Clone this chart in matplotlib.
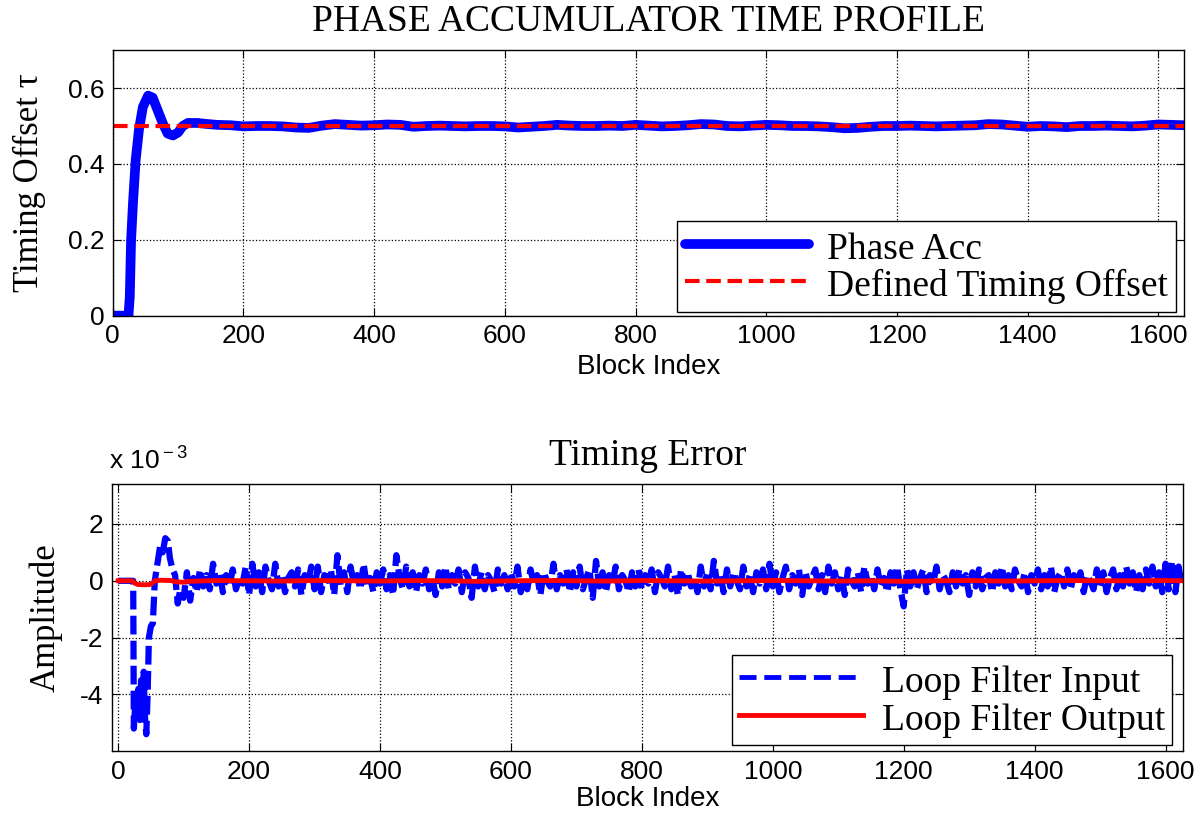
import numpy as np
import matplotlib
matplotlib.use("Agg")
import matplotlib.pyplot as plt

# ---- data ----
# top panel: phase accumulator output (transient then steady state every 20 blocks)
acc_idx = [0, 24, 26, 28, 31, 35, 40, 46, 54, 61, 69, 77, 84, 92, 100, 107, 115, 130]
acc_val = [0, 0, 0.05, 0.2, 0.3, 0.41, 0.49, 0.55, 0.58, 0.575, 0.54, 0.505,
           0.48, 0.475, 0.483, 0.5, 0.508, 0.508]
acc_steady_idx = list(range(140, 1641, 20))
acc_steady_val = [0.506, 0.503, 0.502, 0.499, 0.5, 0.5, 0.499, 0.496, 0.495, 0.501,
                  0.505, 0.503, 0.501, 0.502, 0.504, 0.503, 0.498, 0.5, 0.501, 0.5,
                  0.499, 0.5, 0.5, 0.499, 0.496, 0.498, 0.5, 0.503, 0.501, 0.5,
                  0.5, 0.501, 0.5, 0.503, 0.501, 0.499, 0.5, 0.502, 0.505, 0.504,
                  0.5, 0.499, 0.501, 0.503, 0.502, 0.5, 0.5, 0.499, 0.497, 0.494,
                  0.495, 0.498, 0.5, 0.5, 0.501, 0.5, 0.499, 0.5, 0.501, 0.502,
                  0.505, 0.504, 0.501, 0.498, 0.5, 0.499, 0.497, 0.5, 0.5, 0.501,
                  0.5, 0.499, 0.501, 0.504, 0.503, 0.502]
defined_offset = 0.5

# bottom panel: loop filter input (x 1e-3), transient then every 5 blocks
lf_in_idx = [0, 23, 24, 27, 29, 31, 33, 35, 37, 39, 41, 43, 45, 47, 50, 53, 56,
             60, 64, 68, 72, 76, 79, 83, 87, 91, 95]
lf_in_val = [0, 0, -5.2, -4.0, -4.6, -3.8, -4.9, -3.5, -4.4, -3.2, -4.8, -5.4,
             -4.0, -2.0, -1.6, -1.5, 0.0, 0.6, 1.2, 1.0, 1.5, 1.4, 0.8, 0.4,
             0.2, -0.8, -0.3]
lf_in_steady_idx = list(range(100, 1626, 5))
lf_in_steady_val = [
    -0.6, 0.3, -0.7, 0.1, -0.4, 0.4, -0.2, 0.2, -0.3, 0.6, -0.1, 0.3, -0.4, 0.2, -0.2, 0.4, -0.3, 0.1, -0.1, 0.5,
    -0.5, 0.6, -0.2, 0.3, -0.4, 0.5, 0.0, -0.3, 0.6, -0.2, 0.2, -0.4, 0.1, 0.3, -0.2, 0.4, -0.5, 0.2, -0.1, 0.5,
    -0.3, 0.5, -0.4, 0.2, 0.0, 0.4, -0.5, 0.9, -0.2, 0.3, -0.4, 0.5, -0.1, 0.2, -0.3, 0.6, -0.2, 0.1, -0.4, 0.3,
    -0.1, 0.4, -0.3, 0.2, -0.5, 0.9, 0.1, -0.3, 0.5, -0.2, 0.3, -0.4, 0.2, -0.1, 0.4, -0.3, 0.1, -0.5, 0.3, -0.2,
    0.5, -0.3, 0.2, -0.1, 0.4, -0.4, 0.3, 0.1, -0.6, 0.5, -0.2, 0.3, -0.3, 0.2, 0.0, -0.4, 0.4, -0.1, 0.2, -0.3,
    0.3, -0.2, 0.5, -0.4, 0.1, -0.3, 0.4, -0.1, 0.2, -0.5, 0.3, 0.0, -0.2, 0.6, -0.3, 0.2, -0.1, 0.4, -0.4, 0.3,
    -0.2, 0.5, -0.3, 0.1, 0.4, -0.6, 0.7, -0.2, 0.3, -0.4, 0.2, -0.1, 0.5, -0.3, 0.2, 0.0, -0.4, 0.3, -0.2, 0.4,
    -0.3, 0.2, -0.1, 0.4, -0.4, 0.3, 0.1, -0.2, 0.5, -0.3, 0.2, -0.5, 0.4, -0.1, 0.3, -0.2, 0.1, -0.4, 0.5, -0.2,
    0.3, -0.3, 0.7, -0.1, 0.2, -0.4, 0.4, -0.2, 0.3, 0.0, -0.3, 0.5, -0.2, 0.2, -0.4, 0.3, -0.1, 0.4, -0.3, 0.6,
    -0.2, 0.3, -0.4, 0.1, 0.5, -0.3, 0.2, -0.1, 0.4, -0.5, 0.3, -0.2, 0.1, 0.4, -0.3, 0.2, -0.4, 0.5, -0.1, 0.3,
    -0.3, 0.2, -0.5, 0.4, 0.0, -0.2, 0.3, -0.4, 0.5, -0.1, 0.2, -0.3, 0.4, -0.2, 0.1, -0.4, 0.3, -0.1, 0.5, -0.3,
    -0.9, 0.4, -0.2, 0.3, -0.3, 0.1, 0.4, -0.4, 0.2, -0.1, 0.5, -0.3, 0.2, 0.0, -0.4, 0.3, -0.2, 0.4, -0.1, 0.2,
    -0.5, 0.3, -0.2, 0.4, -0.3, 0.1, 0.2, -0.4, 0.3, -0.1, 0.5, -0.2, 0.2, -0.3, 0.4, 0.0, -0.2, 0.3, -0.4, 0.2,
    -0.1, 0.4, -0.3, 0.2, -0.2, 0.5, -0.4, 0.1, 0.3, -0.2, 0.4, -0.3, 0.2, -0.1, 0.3, -0.4, 0.2, 0.0, -0.3, 0.4,
    -0.2, 0.3, -0.4, 0.1, 0.4, -0.3, 0.2, -0.2, 0.5, -0.1, 0.3, -0.4, 0.2, -0.3, 0.4, -0.1, 0.5, -0.2, 0.3, -0.4,
    0.6, -0.3, 0.7, -0.4, 0.5, -0.2]

# loop filter output (x 1e-3)
lf_out_idx = [0, 22, 25, 30, 40, 49, 53, 56, 65, 80, 90, 100, 106, 150, 200, 250, 300,
              350, 400, 450, 500, 550, 600, 650, 700, 750, 800, 850, 900, 950, 1000,
              1050, 1100, 1150, 1200, 1250, 1300, 1350, 1400, 1450, 1500, 1550, 1600, 1625]
lf_out_val = [0, 0, -0.08, -0.13, -0.14, -0.13, -0.07, 0.0, 0.02, 0.01, -0.04, -0.05,
              -0.02, 0.01, 0.0, -0.01, 0.01, 0.0, -0.01, 0.01, 0.0, -0.02, 0.0, 0.01,
              0.0, -0.01, 0.01, 0.0, -0.01, 0.0, 0.01, 0.0, -0.01, 0.0, -0.02, 0.0,
              0.01, -0.01, 0.0, 0.01, 0.0, 0.0, 0.01, 0.0]

# ---- style ----
plt.rcParams['mathtext.fontset'] = 'custom'
plt.rcParams['mathtext.rm'] = 'Liberation Sans'
plt.rcParams['mathtext.it'] = 'Liberation Sans'
SERIF = 'Liberation Serif'
SANS = 'Liberation Sans'


def style_axes(ax):
    ax.grid(True, linestyle=':', color='black', linewidth=0.9)
    ax.tick_params(direction='in', which='both', top=True, right=True,
                   labelsize=19, length=6, width=0.8, pad=6)
    for lab in ax.get_xticklabels() + ax.get_yticklabels():
        lab.set_fontfamily(SANS)
    for sp in ax.spines.values():
        sp.set_linewidth(1.0)


def style_legend(ax, anchor):
    leg = ax.legend(loc='lower right', bbox_to_anchor=anchor, borderaxespad=0,
                    prop={'family': SERIF, 'size': 27}, fancybox=False, framealpha=1,
                    edgecolor='black', handlelength=3.3, borderpad=0.2,
                    labelspacing=0.0, handletextpad=0.5, handleheight=1.0)
    leg.get_frame().set_linewidth(1.0)
    return leg


fig = plt.figure(figsize=(12, 8.22), dpi=100)

# top panel
ax1 = fig.add_axes([0.094, 0.616, 0.893, 0.323])
ax1.plot(acc_idx + acc_steady_idx, acc_val + acc_steady_val, color='#0000ff',
         linewidth=7, solid_joinstyle='round', solid_capstyle='round', label='Phase Acc')
ax1.axhline(defined_offset, color='#ff0000', linestyle='--', linewidth=3,
            dashes=(3.5, 1.6), label='Defined Timing Offset')
ax1.set_xlim(0, 1640)
ax1.set_ylim(0, 0.7)
ax1.set_xticks(range(0, 1601, 200))
ax1.set_yticks([0, 0.2, 0.4, 0.6])
ax1.set_yticklabels(['0', '0.2', '0.4', '0.6'])
style_axes(ax1)
ax1.set_title('PHASE ACCUMULATOR TIME PROFILE', family=SERIF, fontsize=27, pad=14)
ax1.set_xlabel('Block Index', family=SANS, fontsize=20, labelpad=4)
ax1.set_ylabel('Timing Offset \u03c4', family=SERIF, fontsize=25, labelpad=16)
leg1 = style_legend(ax1, (0.992, 0.015))
leg1.get_lines()[0].set_linewidth(7)

# bottom panel
ax2 = fig.add_axes([0.093, 0.086, 0.893, 0.325])
ax2.plot(lf_in_idx + lf_in_steady_idx, lf_in_val + lf_in_steady_val, color='#0000ff',
         linestyle='--', dashes=(3, 1.0), linewidth=4.5, label='Loop Filter Input')
ax2.plot(lf_out_idx, lf_out_val, color='#ff0000', linewidth=3.5,
         label='Loop Filter Output')
ax2.set_xlim(-10, 1627)
ax2.set_ylim(-6, 3.4)
ax2.set_xticks(range(0, 1601, 200))
ax2.set_yticks([-4, -2, 0, 2])
ax2.set_yticklabels(['-4', '-2', '0', '2'])
style_axes(ax2)
ax2.text(-0.002, 1.035, r'x 10$^{\rm -3}$', transform=ax2.transAxes, family=SANS,
         fontsize=19, ha='left', va='bottom')
ax2.set_title('Timing Error', family=SERIF, fontsize=27, pad=14)
ax2.set_xlabel('Block Index', family=SANS, fontsize=20, labelpad=2)
ax2.set_ylabel('Amplitude', family=SERIF, fontsize=25, labelpad=12)
leg2 = style_legend(ax2, (0.99, 0.022))
leg2.get_lines()[0].set_linewidth(3.5)
leg2.get_lines()[0].set_dashes((3.5, 1.6))

fig.savefig('out.png', dpi=100)
